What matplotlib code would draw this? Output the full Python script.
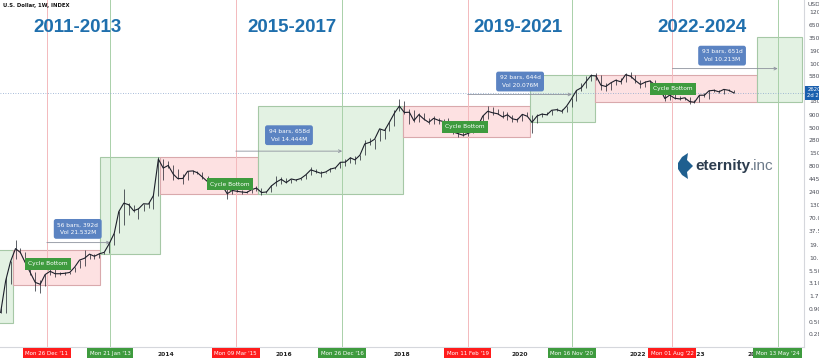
import pandas as pd
import matplotlib
matplotlib.use('Agg')
import matplotlib.pyplot as plt
import matplotlib.dates as mdates
import matplotlib.transforms as mtrans
from matplotlib.ticker import NullLocator, FixedLocator
from matplotlib.patches import Rectangle, Polygon

W, H = 820, 360

# monthly BTC index bars, Mar 2011 .. Aug 2023
close = [0.78, 3.5, 8.7, 16.1, 13.4, 8.2, 5.1, 3.25, 2.97, 4.7,
         5.5, 4.9, 4.9, 5.0, 5.2, 6.7, 9.35, 10.2, 12.4, 11.2, 12.6, 13.5,
         20.4, 33.4, 93, 139, 129, 97, 106, 135, 133, 198, 1120, 732,
         830, 550, 445, 447, 628, 640, 587, 477, 386, 338, 378, 320,
         217, 254, 244, 236, 230, 263, 284, 230, 236, 314, 377, 430,
         368, 437, 416, 448, 531, 673, 624, 575, 608, 700, 742, 963,
         970, 1190, 1080, 1348, 2300, 2480, 2875, 4700, 4340, 6470, 9950, 13850,
         10220, 10330, 6930, 9240, 7490, 6390, 7730, 7030, 6625, 6320, 4020, 3740,
         3460, 3820, 4100, 5320, 8570, 10820, 10080, 9600, 8290, 9150, 7550, 7190,
         9350, 8520, 6410, 8620, 9450, 9140, 11350, 11660, 10780, 13800, 19700, 28990,
         33110, 45140, 58800, 57750, 37330, 35040, 41460, 47100, 43790, 61320, 57000, 46300,
         38480, 43190, 45540, 37710, 31790, 19780, 23300, 20050, 19430, 20490, 17170, 16550,
         23130, 23150, 28480, 29250, 27220, 30480, 29230, 25940]
high = [0.95, 4.1, 9.0, 24.0, 16.5, 13.9, 8.5, 5.2, 3.6, 4.8,
        7.2, 6.3, 5.4, 5.3, 5.2, 6.8, 9.5, 15.4, 12.5, 12.6, 12.9, 13.9,
        20.7, 33.5, 95, 266, 140, 130, 111, 135, 145, 215, 1240, 1150,
        1020, 865, 715, 545, 634, 680, 650, 600, 495, 412, 460, 390,
        320, 265, 300, 260, 247, 268, 315, 285, 250, 330, 500, 470,
        460, 440, 440, 465, 550, 780, 690, 625, 615, 720, 755, 970,
        1150, 1210, 1290, 1350, 2760, 2980, 2920, 4740, 4970, 6470, 11400, 19700,
        17200, 11800, 11700, 9760, 9990, 7770, 8490, 7760, 7400, 7680, 6560, 4240,
        4110, 4200, 4140, 5620, 9000, 13900, 13100, 12300, 10920, 10400, 9270, 7750,
        9570, 10500, 9180, 9470, 10070, 10400, 11450, 12470, 12100, 14100, 19900, 29300,
        41950, 58350, 61790, 64850, 59500, 41300, 42300, 50500, 52900, 67000, 69000, 59000,
        47990, 45800, 48200, 47450, 39900, 31900, 24700, 25200, 22800, 21000, 21500, 18400,
        23900, 25250, 29200, 31000, 29800, 31400, 31800, 30200]
low = [0.75, 0.76, 3.0, 10.0, 12.8, 6.5, 4.7, 2.2, 2.0, 2.7,
       4.6, 4.2, 4.6, 4.7, 4.9, 5.2, 6.5, 7.1, 9.9, 9.8, 10.3, 12.5,
       13.2, 19.5, 33, 50, 79, 90, 65, 95, 109, 105, 195, 420,
       740, 420, 440, 340, 425, 545, 565, 440, 365, 275, 320, 310,
       170, 210, 235, 215, 225, 220, 253, 200, 225, 236, 310, 345,
       355, 365, 400, 415, 440, 530, 590, 470, 570, 605, 685, 740,
       790, 920, 890, 1060, 1340, 2170, 1830, 2670, 2970, 4160, 5500, 10900,
       9400, 5950, 6600, 6430, 7030, 5780, 5830, 5880, 6100, 6200, 3650, 3150,
       3350, 3390, 3860, 4070, 5320, 7500, 9100, 9400, 7800, 7300, 6500, 6430,
       6860, 8450, 3850, 6150, 8100, 8900, 8950, 11100, 9850, 10400, 13200, 17600,
       28130, 32300, 45000, 47000, 30000, 28800, 29300, 37300, 39600, 43300, 53300, 42000,
       32900, 34300, 37200, 37400, 25400, 17600, 18800, 19600, 18100, 18200, 15500, 16300,
       16500, 21400, 19600, 26900, 25900, 24800, 28900, 25200]
months = pd.date_range("2011-03-01", periods=len(close), freq="MS") + pd.Timedelta(days=14)
last_price = 26200

# cycle boxes
box_start = ["2011-02-01", "2011-05-29", "2012-11-17", "2013-11-24", "2015-07-23",
             "2018-01-07", "2020-03-04", "2021-04-09", "2024-01-07"]
box_end = ["2011-05-29", "2012-11-17", "2013-11-24", "2015-07-23", "2018-01-07",
           "2020-03-04", "2021-04-09", "2024-01-07", "2024-10-10"]
box_low = [0.48, 2.82, 12.7, 215, 215, 3165, 6420, 16500, 16500]
box_high = [15.4, 15.4, 1233, 1233, 13600, 13600, 61700, 61700, 370000]
box_kind = ["up", "down", "up", "down", "up", "down", "up", "down", "up"]

# marked dates on the time axis
mark_dates = ["2011-12-26", "2013-01-21", "2015-03-09", "2016-12-26",
              "2019-02-11", "2020-11-16", "2022-08-01", "2024-05-13"]
mark_labels = ["Mon 26 Dec '11", "Mon 21 Jan '13", "Mon 09 Mar '15", "Mon 26 Dec '16",
               "Mon 11 Feb '19", "Mon 16 Nov '20", "Mon 01 Aug '22", "Mon 13 May '24"]
mark_kind = ["down", "up", "down", "up", "down", "up", "down", "up"]

# bottom -> run measurements
meas_text = ["56 bars, 392d\nVol 21.532M", "94 bars, 658d\nVol 14.444M",
             "92 bars, 644d\nVol 20.076M", "93 bars, 651d\nVol 10.213M"]
meas_level = [21.4, 1635, 24000, 81700]
meas_label_x = ["2012-07-04", "2016-02-01", "2020-01-01", "2023-06-04"]
meas_label_y = [41, 3480, 44300, 151000]

bottom_x = ["2012-01-01", "2015-02-01", "2019-01-25", "2022-08-05"]
bottom_y = [6.3, 273, 4200, 25200]

titles = ["2011-2013", "2015-2017", "2019-2021", "2022-2024"]
title_x = [78, 292, 518, 702]

yticks = [0.28, 0.5, 0.9, 1.7, 3.1, 5.5, 10.5, 19.5, 37.5, 70, 130, 240, 445, 800,
          1500, 2800, 5000, 9000, 18000, 58000, 100000, 190000, 350000, 650000, 1200000]
year_ticks = ["2014", "2016", "2018", "2020", "2022", "2023", "2024"]

RED_FILL, RED_EDGE, RED_LINE, RED_TAG = '#fde1e2', '#d9a9ac', '#f3b9bc', '#ff1c1c'
GRN_FILL, GRN_EDGE, GRN_LINE, GRN_TAG = '#e3f2e3', '#a6c8a6', '#a9d0a9', '#3e9b3e'
INK = '#1c1f2a'

fig = plt.figure(figsize=(W / 100, H / 100), dpi=100)
ax = fig.add_axes([0, 13 / H, 804 / W, 347 / H])
ax.set_yscale('log')
ax.set_ylim(0.152, 2.11e6)
ax.set_xlim(pd.Timestamp("2011-03-11"), pd.Timestamp("2024-10-23"))

for s, e, lo, hi, k in zip(box_start, box_end, box_low, box_high, box_kind):
    s, e = mdates.date2num(pd.Timestamp(s)), mdates.date2num(pd.Timestamp(e))
    fc, ec = (GRN_FILL, GRN_EDGE) if k == "up" else (RED_FILL, RED_EDGE)
    ax.add_patch(Rectangle((s, lo), e - s, hi - lo, facecolor=fc, edgecolor=ec, lw=0.8, zorder=0.5))

for d, k in zip(mark_dates, mark_kind):
    ax.axvline(pd.Timestamp(d), color=GRN_LINE if k == "up" else RED_LINE, lw=0.7, zorder=1)

ax.axhline(last_price, color='#8aa6cc', lw=0.6, ls=(0, (1, 2)), zorder=1)

# measurement arrows + labels
for i in range(4):
    ax.annotate('', xy=(pd.Timestamp(mark_dates[2 * i + 1]), meas_level[i]),
                xytext=(pd.Timestamp(mark_dates[2 * i]), meas_level[i]),
                arrowprops=dict(arrowstyle='->', color='#8c919c', lw=0.6, shrinkA=0, shrinkB=0,
                                mutation_scale=5), zorder=2)
    ax.text(pd.Timestamp(meas_label_x[i]), meas_label_y[i], meas_text[i], ha='center', va='center',
            fontsize=4.2, color='white', linespacing=1.7, zorder=6,
            bbox=dict(boxstyle='round,pad=0.6,rounding_size=0.4', fc='#5b83c2', ec='none'))

# price bars
ax.vlines(months, low, high, color=INK, lw=0.5, zorder=3)
ax.plot(months, close, color=INK, lw=0.8, zorder=3)

for d, p in zip(bottom_x, bottom_y):
    d = pd.Timestamp(d)
    ax.plot([d], [p], marker='v', ms=3.5, color=GRN_TAG, mec='none', zorder=6)
    ax.annotate("Cycle Bottom", xy=(d, p), xytext=(0, 1.5), textcoords='offset points',
                ha='center', va='bottom', fontsize=4.2, color='white', zorder=7,
                bbox=dict(boxstyle='square,pad=0.6', fc=GRN_TAG, ec='none'))

# axes styling
for side in ['top', 'left']:
    ax.spines[side].set_visible(False)
ax.spines['right'].set_color('#d5d7dc')
ax.spines['bottom'].set_color('#d5d7dc')
ax.spines['right'].set_linewidth(0.8)
ax.spines['bottom'].set_linewidth(0.8)
ax.yaxis.tick_right()
ax.yaxis.set_major_locator(FixedLocator(yticks))
ax.yaxis.set_minor_locator(NullLocator())
ax.set_yticklabels([f"{v:.2f}" for v in yticks])
ax.tick_params(axis='y', length=0, pad=3.5, labelsize=4.3, labelcolor='#4a4d57')
ax.set_xticks([pd.Timestamp(f"{y}-01-01") for y in year_ticks])
ax.set_xticklabels(year_ticks)
ax.xaxis.set_minor_locator(NullLocator())
ax.tick_params(axis='x', length=0, pad=3.5, labelsize=4.3, labelcolor='#222')
for t in ax.get_xticklabels():
    t.set_fontweight('bold')

xt = ax.get_xaxis_transform()
for d, lab, k in zip(mark_dates, mark_labels, mark_kind):
    ax.text(pd.Timestamp(d), -0.018, lab, transform=xt, ha='center', va='center', fontsize=4.0,
            color='white', clip_on=False, zorder=8,
            bbox=dict(boxstyle='square,pad=0.45', fc=GRN_TAG if k == "up" else RED_TAG, ec='none'))

yt = mtrans.blended_transform_factory(ax.transAxes, ax.transData)
ax.text(1.004, last_price, f"{last_price:.2f}\n2d 21h", transform=yt, ha='left', va='center',
        fontsize=3.8, color='white', clip_on=False, zorder=8, linespacing=1.1,
        bbox=dict(boxstyle='square,pad=0.35', fc='#1a5fae', ec='none'))
fig.text(808 / W, 1 - 5 / H, "USD", fontsize=4.3, color='#4a4d57', va='center')
fig.text(3 / W, 1 - 5 / H, "U.S. Dollar, 1W, INDEX", fontsize=3.8, color='#111',
         ha='left', va='center', fontweight='bold')

for t, x in zip(titles, title_x):
    fig.text(x / W, 1 - 27 / H, t, ha='center', va='center', fontsize=13.5, fontweight='bold',
             color='#1f6fad', family='Liberation Sans')

# logo
leaf = [(688, 153), (682, 157), (678, 163), (678, 169), (682, 175), (688, 179),
        (687, 172), (693, 166), (687, 160)]
fig.patches.append(Polygon([(x / W, 1 - y / H) for x, y in leaf], closed=True,
                           transform=fig.transFigure, fc='#1f5f8f', ec='none'))
t1 = fig.text(695 / W, 1 - 166 / H, "eternity", fontsize=11, fontweight='bold', color='#2d3d4f',
              va='center', ha='left', family='Liberation Sans')
fig.text(0, 0, "", fontsize=1)
ax.annotate(".inc", xy=(1, 0.5), xycoords=t1, va='center', ha='left', fontsize=11,
            color='#6d7b8a', family='Liberation Sans', annotation_clip=False)

fig.savefig("out.png", dpi=100)
